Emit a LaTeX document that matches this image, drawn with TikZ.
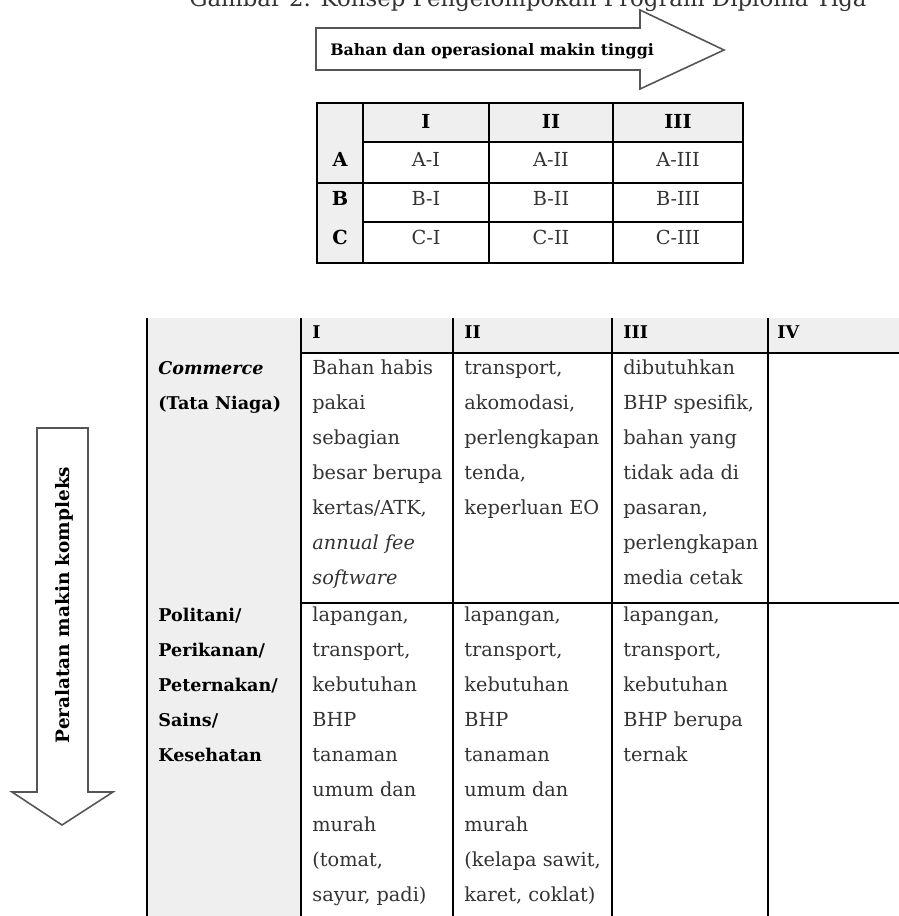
\documentclass[tikz,border=0pt]{standalone}
\usepackage{fontspec}
\setmainfont{DejaVu Serif}
\usepackage{xcolor}
\usepackage{tikz}
\definecolor{cellgray}{HTML}{EFEFEF}
\definecolor{inkgray}{HTML}{333333}
\definecolor{arrowline}{HTML}{555555}

\begin{document}
\begin{tikzpicture}[x=0.02cm, y=-0.02cm,
    cell/.style={anchor=north west, inner sep=0pt, align=left, text=inkgray, font=\fontsize{11}{19.92}\selectfont},
    rowhead/.style={cell, text=black, font=\fontsize{10}{19.92}\selectfont\bfseries},
    mini/.style={inner sep=0pt, text=inkgray, font=\fontsize{11}{13}\selectfont},
    minihead/.style={inner sep=0pt, text=black, font=\fontsize{11}{13}\selectfont\bfseries},
    bigarrow/.style={draw=arrowline, line width=0.9pt, fill=white, line join=miter}]
            \useasboundingbox (0,0) rectangle (899,916);

            \node[anchor=base east, inner sep=0pt, text=inkgray, font=\fontsize{13}{15}\selectfont] at (867,7) (title) {Gambar 2. Konsep Pengelompokan Program Diploma Tiga};

            \draw[bigarrow] (316,28) -- (640,28) -- (640,10) -- (724,50) -- (640,89) -- (640,70) -- (316,70) -- cycle;
            \node[anchor=base west, inner sep=0pt, font=\fontsize{9}{11}\selectfont\bfseries] at (330,55) (bahan) {Bahan dan operasional makin tinggi};

            \draw[bigarrow] (37,428) -- (88,428) -- (88,792) -- (113,792) -- (62,825) -- (12,792) -- (37,792) -- cycle;
            \node[anchor=base, rotate=90, inner sep=0pt, font=\fontsize{10.5}{12}\selectfont\bfseries] at (69,605) (peralatan) {Peralatan makin kompleks};

            \fill[cellgray] (317,103) rectangle (363,263);
            \fill[cellgray] (363,103) rectangle (743,142);
            \draw[line width=1.1pt] (317,103) rectangle (743,263);
            \draw[line width=1.1pt] (363,103) -- (363,263);
            \draw[line width=0.8pt] (489,103) -- (489,263);
            \draw[line width=1.3pt] (613,103) -- (613,263);
            \draw[line width=0.8pt] (363,142) -- (743,142);
            \draw[line width=1.4pt] (317,183) -- (743,183);
            \draw[line width=0.8pt] (363,222) -- (743,222);

            \node[minihead] at (426,121) (kI) {I};
            \node[minihead] at (551,121) (kII) {II};
            \node[minihead] at (678,121) (kIII) {III};
            \node[minihead] at (340,159) (kA) {A};
            \node[minihead] at (340,198) (kB) {B};
            \node[minihead] at (340,237) (kC) {C};
            \node[mini] at (426,159) (kAI) {A-I};
            \node[mini] at (551,159) (kAII) {A-II};
            \node[mini] at (678,159) (kAIII) {A-III};
            \node[mini] at (426,198) (kBI) {B-I};
            \node[mini] at (551,198) (kBII) {B-II};
            \node[mini] at (678,198) (kBIII) {B-III};
            \node[mini] at (426,237) (kCI) {C-I};
            \node[mini] at (551,237) (kCII) {C-II};
            \node[mini] at (678,237) (kCIII) {C-III};

            \fill[cellgray] (147,318) rectangle (905,353);
            \fill[cellgray] (147,353) rectangle (301,920);
            \draw[line width=0.6pt] (147,318) -- (147,920);
            \draw[line width=1.4pt] (301,318) -- (301,920);
            \draw[line width=1.4pt] (453,318) -- (453,920);
            \draw[line width=0.9pt] (612,318) -- (612,920);
            \draw[line width=0.9pt] (768,318) -- (768,920);
            \draw[line width=0.9pt] (301,353) -- (905,353);
            \draw[line width=1.1pt] (301,603) -- (905,603);

            \node[rowhead] at (312,313.5) (hI) {\strut I};
            \node[rowhead] at (464,313.5) (hII) {\strut II};
            \node[rowhead] at (623,313.5) (hIII) {\strut III};
            \node[rowhead] at (777,313.5) (hIV) {\strut IV};

            \node[rowhead] at (158,349.5) (commerce) {\strut\textit{Commerce}\\(Tata Niaga)};
            \node[cell] at (312,349.5) (c1) {\strut Bahan habis\\pakai\\sebagian\\besar berupa\\kertas/ATK,\\\textit{annual fee}\\\textit{software}};
            \node[cell] at (464,349.5) (c2) {\strut transport,\\akomodasi,\\perlengkapan\\tenda,\\keperluan EO};
            \node[cell] at (623,349.5) (c3) {\strut dibutuhkan\\BHP spesifik,\\bahan yang\\tidak ada di\\pasaran,\\perlengkapan\\media cetak};

            \node[rowhead] at (158,596.5) (politani) {\strut Politani/\\Perikanan/\\Peternakan/\\Sains/\\Kesehatan};
            \node[cell] at (312,596.5) (p1) {\strut lapangan,\\transport,\\kebutuhan\\BHP\\tanaman\\umum dan\\murah\\(tomat,\\sayur, padi)};
            \node[cell] at (464,596.5) (p2) {\strut lapangan,\\transport,\\kebutuhan\\BHP\\tanaman\\umum dan\\murah\\(kelapa sawit,\\karet, coklat)};
            \node[cell] at (623,596.5) (p3) {\strut lapangan,\\transport,\\kebutuhan\\BHP berupa\\ternak};
\end{tikzpicture}
\end{document}
